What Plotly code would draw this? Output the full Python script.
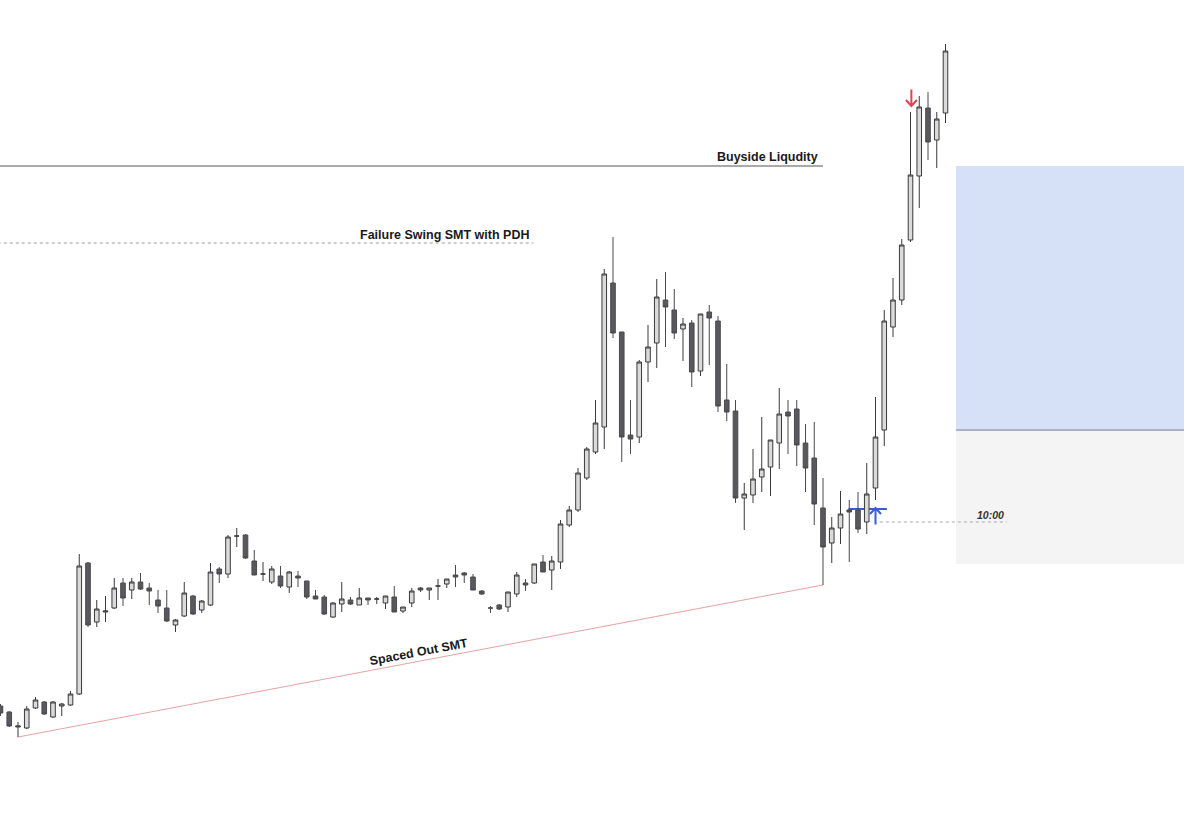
import plotly.graph_objects as go

# candle index (time order), prices in chart units
idx = list(range(109))
opens = [109, 103, 88, 87, 107, 113, 98, 109, 110, 121, 252, 193, 203, 207, 232, 225, 233, 227, 215, 207,
         190, 199, 219, 205, 210, 246, 241, 279, 280, 254, 241, 233, 239, 228, 239, 234, 219, 218, 198, 211,
         215, 210, 217, 216, 212, 218, 204, 212, 227, 225, 229, 231, 240, 242, 238, 224, 207, 210, 208, 221,
         232, 232, 253, 245, 253, 290, 305, 337, 363, 388, 532, 483, 380, 378, 453, 472, 515, 505, 486, 492,
         444, 503, 494, 415, 404, 317, 320, 338, 348, 372, 403, 406, 372, 357, 307, 272, 287, 305, 305, 293,
         327, 385, 488, 515, 575, 639, 707, 675, 702]
highs = [111, 104, 93, 109, 118, 114, 114, 112, 124, 261, 253, 215, 219, 237, 237, 237, 242, 232, 225, 225,
         196, 233, 220, 215, 252, 248, 280, 287, 281, 265, 253, 249, 249, 244, 244, 234, 225, 220, 213, 233,
         218, 227, 217, 218, 219, 229, 208, 227, 228, 227, 236, 236, 250, 243, 241, 225, 209, 211, 223, 243,
         236, 251, 260, 259, 295, 309, 347, 368, 415, 546, 578, 483, 415, 455, 490, 536, 543, 526, 497, 495,
         501, 510, 499, 451, 415, 332, 366, 398, 375, 427, 415, 415, 391, 393, 337, 298, 324, 315, 323, 352,
         418, 505, 537, 576, 703, 719, 723, 703, 771]
lows = [99, 88, 78, 86, 106, 100, 97, 99, 109, 120, 188, 188, 193, 206, 209, 216, 225, 210, 202, 193,
        183, 198, 200, 202, 209, 232, 237, 268, 256, 240, 234, 231, 227, 222, 228, 216, 216, 200, 197, 203,
        210, 210, 210, 211, 206, 203, 202, 208, 223, 215, 215, 227, 228, 232, 225, 220, 202, 205, 203, 218,
        224, 231, 243, 225, 246, 288, 303, 335, 361, 366, 477, 353, 361, 372, 433, 447, 468, 476, 454, 428,
        439, 450, 403, 394, 312, 285, 312, 323, 319, 346, 361, 349, 323, 290, 230, 252, 271, 253, 282, 281,
        315, 369, 478, 510, 573, 607, 655, 647, 692]
closes = [102, 89, 89, 106, 115, 101, 113, 111, 121, 249, 190, 206, 204, 227, 217, 233, 226, 224, 209, 194,
          195, 222, 201, 214, 243, 241, 278, 279, 257, 240, 241, 246, 229, 243, 237, 218, 216, 201, 212, 216,
          211, 217, 215, 216, 219, 203, 208, 224, 225, 227, 229, 236, 238, 240, 225, 221, 207, 206, 223, 240,
          230, 251, 243, 254, 291, 305, 342, 366, 392, 541, 482, 378, 376, 453, 468, 518, 508, 482, 491, 443,
          501, 497, 409, 403, 317, 321, 336, 346, 375, 401, 399, 370, 347, 311, 268, 287, 301, 303, 286, 321,
          378, 494, 515, 570, 640, 708, 673, 696, 764]

# annotation levels
buyside_level = 649
pdh_level = 572
smt_x = [2, 94]
smt_y = [78, 230]
zone_x = [109.2, 135.26]
premium_zone = [385, 649]
discount_zone = [251, 385]
open_level = 293
entry_level = 306
sell_signal = (104.1, 717)
buy_signal = (100.0, 299)

XMIN, XMAX = -0.0571, 137.086

fig = go.Figure()
fig.add_trace(go.Candlestick(
    x=idx, open=opens, high=highs, low=lows, close=closes,
    increasing=dict(line=dict(color="#3a3a3a", width=1), fillcolor="#dadada"),
    decreasing=dict(line=dict(color="#4a4a4f", width=1), fillcolor="#58585d"),
    whiskerwidth=0, hoverinfo="skip", showlegend=False,
))

shapes = [
    dict(type="rect", xref="x", yref="y", x0=zone_x[0], x1=zone_x[1], y0=premium_zone[0], y1=premium_zone[1],
         fillcolor="#d6e1f8", line=dict(width=0), layer="below"),
    dict(type="rect", xref="x", yref="y", x0=zone_x[0], x1=zone_x[1], y0=discount_zone[0], y1=discount_zone[1],
         fillcolor="#f4f4f4", line=dict(width=0), layer="below"),
    dict(type="line", xref="x", yref="y", x0=zone_x[0], x1=zone_x[1], y0=premium_zone[0], y1=premium_zone[0],
         line=dict(color="#a9b1c6", width=2), layer="below"),
    dict(type="line", xref="x", yref="y", x0=-1, x1=94, y0=buyside_level, y1=buyside_level,
         line=dict(color="#555555", width=1), layer="below"),
    dict(type="line", xref="x", yref="y", x0=-1, x1=60.9, y0=pdh_level, y1=pdh_level,
         line=dict(color="#9a9a9a", width=1, dash="dot"), layer="below"),
    dict(type="line", xref="x", yref="y", x0=smt_x[0], x1=smt_x[1], y0=smt_y[0], y1=smt_y[1],
         line=dict(color="#e8a3a3", width=1), layer="below"),
    dict(type="line", xref="x", yref="y", x0=100.5, x1=115, y0=open_level, y1=open_level,
         line=dict(color="#aaaaaa", width=1, dash="dot"), layer="below"),
    dict(type="line", xref="x", yref="y", x0=96.9, x1=101.3, y0=entry_level, y1=entry_level,
         line=dict(color="#3b5bdb", width=2), layer="below"),
    # down arrow (pixel-sized glyph anchored at a data point)
    dict(type="path", xref="x", yref="y", xsizemode="pixel", ysizemode="pixel",
         xanchor=sell_signal[0], yanchor=sell_signal[1],
         path="M0,8.5 L0,-8 M-5.5,-2 L0,-8 L5.5,-2",
         line=dict(color="#e04450", width=2)),
    # up arrow
    dict(type="path", xref="x", yref="y", xsizemode="pixel", ysizemode="pixel",
         xanchor=buy_signal[0], yanchor=buy_signal[1],
         path="M0,-8.5 L0,8 M-5.5,2 L0,8 L5.5,2",
         line=dict(color="#3b5bdb", width=2)),
]

font_b = dict(family="Liberation Sans, Arial, sans-serif", size=12.5, color="#1a1a1a", weight="bold")
annotations = [
    dict(x=93.66, y=buyside_level + 9, text="Buyside Liqudity", showarrow=False, xanchor="right",
         yanchor="middle", font=font_b),
    dict(x=60.63, y=pdh_level + 8, text="Failure Swing SMT with PDH", showarrow=False, xanchor="right",
         yanchor="middle", font=font_b),
    dict(x=47.83, y=163, text="Spaced Out SMT", showarrow=False, xanchor="center", yanchor="middle",
         textangle=-10.7, font=font_b),
    dict(x=114.9, y=300, text="10:00", showarrow=False, xanchor="right", yanchor="middle",
         font=dict(family="Liberation Sans, Arial, sans-serif", size=10.5, color="#333333", weight="bold",
                   style="italic")),
]

fig.update_layout(
    width=1200, height=815, margin=dict(l=0, r=0, t=0, b=0),
    paper_bgcolor="white", plot_bgcolor="white",
    xaxis=dict(range=[XMIN, XMAX], visible=False, rangeslider=dict(visible=False), fixedrange=True),
    yaxis=dict(range=[0, 815], visible=False, fixedrange=True),
    boxgap=0.25,
    shapes=shapes, annotations=annotations, showlegend=False,
)

fig.write_html("out.html")
